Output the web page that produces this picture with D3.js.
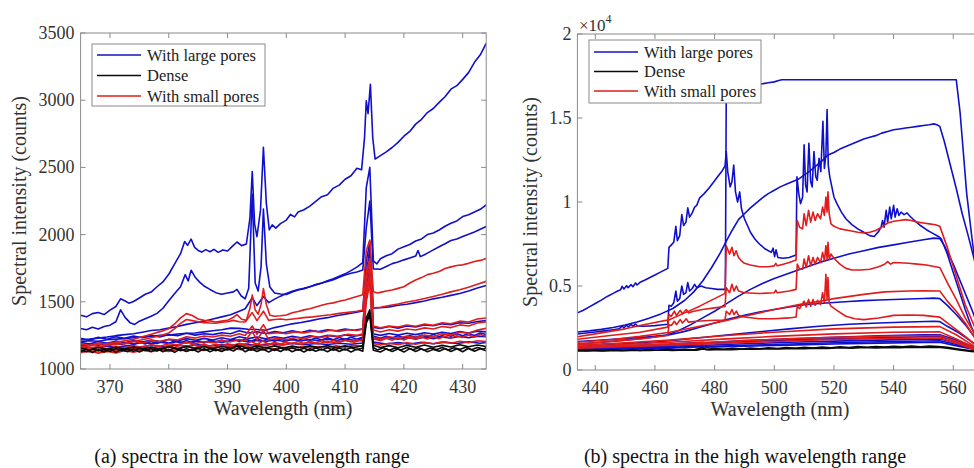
<!DOCTYPE html>
<html><head><meta charset="utf-8">
<script src="https://cdn.jsdelivr.net/npm/d3@7"></script>
<style>
body{margin:0;background:#fff}
text{font-family:"Liberation Serif","Times New Roman",serif}
</style></head>
<body><svg id="c" width="974" height="468"></svg>
<script>
// ---------------- tick labels ----------------
const leftXTicks=[370,380,390,400,410,420,430];
const leftYTicks=[1000,1500,2000,2500,3000,3500];
const rightXTicks=[440,460,480,500,520,540,560];
const rightYTicks=[0,5000,10000,15000,20000];
const rightYLabels=["0","0.5","1","1.5","2"];
const legendNames=["With large pores","Dense","With small pores"];
const captions=["(a) spectra in the low wavelength range","(b) spectra in the high wavelength range"];

// ---------------- left panel: with large pores ----------------
const largeL1=[[365,1400],[366,1388],[367,1412],[368,1420],[369,1405],[370,1438],[371,1465],[371.8,1522],[372.5,1508],[373.2,1490],[374,1502],[375,1528],[376,1556],[377,1572],[378,1612],[379,1648],[380,1705],[381,1782],[382,1858],[382.7,1948],[383.2,1920],[383.8,1966],[384.4,1905],[385,1882],[385.6,1870],[386.3,1888],[387,1872],[387.7,1890],[388.4,1868],[389.2,1886],[390,1878],[390.8,1912],[391.6,1945],[392.4,1918],[393.2,1930],[393.8,2120],[394.2,2470],[394.6,2080],[395,1985],[395.6,2180],[396.1,2650],[396.6,2230],[397.1,2035],[397.6,2072],[398.2,2048],[399,2082],[400,2108],[400.7,2150],[401.4,2132],[402,2168],[403,2185],[404,2212],[405,2248],[406,2282],[407,2296],[408,2346],[409,2368],[410,2412],[411,2438],[412,2494],[412.8,2482],[413.3,2720],[413.6,2995],[413.9,2900],[414.3,3118],[414.7,2720],[415.1,2562],[416,2588],[417,2616],[418,2648],[419,2686],[420,2732],[421,2768],[422,2822],[423,2858],[424,2908],[425,2938],[426,2984],[427,3026],[428,3082],[429,3108],[430,3155],[431,3205],[432,3282],[433,3338],[434,3422]];
const largeL2=[[365,1302],[366,1292],[367,1310],[368,1298],[369,1316],[370,1326],[371,1352],[371.8,1440],[372.6,1382],[373.4,1345],[374.2,1332],[375,1356],[376,1374],[377,1392],[378,1414],[379,1452],[380,1508],[381,1562],[382,1612],[382.8,1702],[383.3,1655],[383.8,1735],[384.5,1682],[385.2,1648],[386,1618],[387,1592],[388,1568],[389,1556],[390,1566],[391,1574],[391.6,1592],[392.3,1545],[393,1522],[393.6,1600],[394.2,2300],[394.7,1640],[395.2,1580],[395.7,1760],[396.1,2190],[396.6,1780],[397.2,1610],[398,1566],[399,1558],[400,1554],[401,1572],[402,1588],[403,1598],[404,1612],[405,1626],[406,1638],[407,1656],[408,1672],[409,1690],[410,1708],[411,1732],[412,1758],[413,1792],[413.6,2350],[414.2,2500],[414.8,1805],[415.4,1782],[416,1820],[417,1842],[418,1858],[419,1892],[420,1910],[421,1926],[422,1952],[423,1968],[424,2000],[425,2012],[426,2034],[427,2062],[428,2084],[429,2102],[430,2134],[431,2148],[432,2168],[433,2188],[434,2222]];
const largeL3=[[365,1216],[366.5,1222],[368,1230],[369.5,1238],[371,1248],[372.5,1256],[374,1262],[375.5,1274],[377,1286],[378.5,1292],[380,1304],[381.5,1316],[383,1332],[384.5,1344],[386,1356],[387.5,1372],[389,1388],[390.5,1404],[392,1430],[393,1448],[394.2,1530],[395,1472],[396.1,1540],[397,1494],[398,1520],[399,1542],[400,1562],[401,1578],[402,1592],[403,1600],[404,1612],[405,1628],[406,1640],[407,1652],[408,1664],[409,1682],[410,1700],[411,1712],[412,1722],[413,1736],[413.6,2050],[414.2,2250],[414.8,1745],[416,1742],[417,1762],[418,1784],[419,1796],[420,1812],[421,1826],[422,1840],[422.4,1882],[422.8,1836],[423.5,1850],[424,1862],[425,1886],[426,1910],[427,1932],[428,1956],[429,1968],[430,1986],[431,2002],[432,2020],[433,2040],[434,2060]];
const largeL4=[[365,1202],[366.5,1210],[368,1206],[369.5,1218],[371,1222],[372.5,1226],[374,1232],[375.5,1238],[377,1242],[378.5,1250],[380,1252],[381.5,1260],[383,1266],[384.5,1268],[386,1276],[387.5,1284],[389,1292],[390.5,1304],[392,1302],[393.5,1296],[395,1294],[396.5,1288],[398,1308],[399.5,1322],[401,1336],[402.5,1346],[404,1358],[405.5,1372],[407,1382],[408.5,1396],[410,1408],[411.5,1418],[413,1432],[413.6,1800],[414.2,1950],[414.8,1452],[416,1456],[417.5,1462],[419,1474],[420.5,1482],[422,1494],[423.5,1506],[425,1522],[426.5,1534],[428,1548],[429.5,1562],[431,1580],[432.5,1602],[434,1622]];
const largeL5=[[365,1228],[366.5,1214],[368,1236],[369.5,1222],[371,1240],[372.5,1228],[374,1246],[375.5,1232],[377,1250],[378.5,1238],[380,1256],[381.5,1248],[383,1266],[384.5,1252],[386,1262],[387.5,1256],[389,1270],[390.5,1262],[392,1284],[393.5,1268],[395,1276],[396.5,1264],[398,1278],[399.5,1270],[401,1284],[402.5,1272],[404,1288],[405.5,1278],[407,1292],[408.5,1284],[410,1298],[411.5,1288],[413,1300],[413.6,1700],[414.2,1900],[414.8,1310],[416,1302],[417.5,1316],[419,1304],[420.5,1320],[422,1312],[423.5,1328],[425,1322],[426.5,1336],[428,1330],[429.5,1344],[431,1340],[432.5,1354],[434,1360]];
const largeL6=[[365,1198],[366.5,1186],[368,1204],[369.5,1192],[371,1208],[372.5,1196],[374,1212],[375.5,1200],[377,1216],[378.5,1204],[380,1220],[381.5,1208],[383,1226],[384.5,1214],[386,1228],[387.5,1216],[389,1232],[390.5,1220],[392,1240],[393.5,1226],[395,1238],[396.5,1224],[398,1240],[399.5,1228],[401,1244],[402.5,1232],[404,1248],[405.5,1236],[407,1250],[408.5,1240],[410,1254],[411.5,1244],[413,1256],[413.6,1650],[414.2,1850],[414.8,1262],[416,1250],[417.5,1264],[419,1252],[420.5,1266],[422,1256],[423.5,1270],[425,1260],[426.5,1274],[428,1264],[429.5,1278],[431,1268],[432.5,1282],[434,1276]];
const largeL7=[[365,1176],[366.5,1190],[368,1178],[369.5,1192],[371,1182],[372.5,1196],[374,1184],[375.5,1198],[377,1188],[378.5,1200],[380,1190],[381.5,1204],[383,1194],[384.5,1206],[386,1196],[387.5,1208],[389,1198],[390.5,1210],[392,1214],[393.5,1202],[395,1212],[396.5,1204],[398,1216],[399.5,1206],[401,1218],[402.5,1208],[404,1220],[405.5,1210],[407,1222],[408.5,1212],[410,1224],[411.5,1214],[413,1226],[413.6,1600],[414.2,1780],[414.8,1230],[416,1220],[417.5,1232],[419,1222],[420.5,1234],[422,1224],[423.5,1236],[425,1226],[426.5,1238],[428,1230],[429.5,1242],[431,1232],[432.5,1244],[434,1240]];
const largeL8=[[365,1166],[367,1158],[369,1170],[371,1162],[373,1174],[375,1164],[377,1176],[379,1166],[381,1178],[383,1170],[385,1180],[387,1172],[389,1182],[391,1178],[393,1186],[395,1176],[397,1188],[399,1178],[401,1190],[403,1180],[405,1190],[407,1182],[409,1192],[411,1184],[413,1194],[413.6,1550],[414.2,1700],[414.8,1200],[417,1186],[419,1196],[421,1186],[423,1198],[425,1188],[427,1200],[429,1190],[431,1202],[433,1192],[434,1198]];
const largeL9=[[365,1186],[366,1172],[367,1190],[368,1176],[369,1194],[370,1178],[371,1196],[372,1182],[373,1198],[374,1184],[375,1200],[376,1186],[377,1204],[378,1190],[379,1206],[380,1192],[381,1208],[382,1194],[383,1212],[384,1196],[385,1210],[386,1198],[387,1214],[388,1200],[389,1216],[390,1202],[391,1220],[392,1206],[393,1222],[394,1208],[395,1224],[396,1210],[397,1222],[398,1206],[399,1224],[400,1210],[401,1226],[402,1212],[403,1228],[404,1214],[405,1230],[406,1216],[407,1232],[408,1218],[409,1234],[410,1220],[411,1236],[412,1222],[413,1238],[413.6,1620],[414.2,1820],[414.8,1246],[416,1228],[417,1244],[418,1230],[419,1248],[420,1232],[421,1250],[422,1236],[423,1252],[424,1238],[425,1256],[426,1240],[427,1258],[428,1244],[429,1262],[430,1248],[431,1264],[432,1250],[433,1268],[434,1256]];

// ---------------- left panel: with small pores ----------------
const smallL1=[[365,1165],[366.5,1172],[368,1185],[369.5,1190],[371,1198],[372.5,1210],[374,1222],[375.5,1240],[377,1258],[378.5,1278],[380,1300],[381,1335],[382,1380],[383,1412],[384,1398],[385,1372],[386,1362],[387,1358],[388,1350],[389,1356],[390,1362],[391,1385],[391.6,1405],[392.4,1370],[393.2,1362],[393.8,1450],[394.2,1550],[394.7,1440],[395.2,1408],[395.7,1480],[396.1,1598],[396.6,1480],[397.2,1400],[398,1392],[399,1396],[400,1402],[401,1418],[402,1428],[403,1440],[404,1448],[405,1462],[406,1474],[407,1486],[408,1492],[409,1504],[410,1514],[411,1526],[412,1540],[413,1552],[413.6,1880],[414.2,1960],[414.8,1575],[415.5,1565],[416,1570],[417,1580],[418,1588],[419,1600],[420,1612],[421,1640],[422,1662],[423,1680],[424,1702],[425,1712],[426,1726],[427,1748],[428,1760],[429,1770],[430,1775],[431,1786],[432,1800],[433,1808],[434,1822]];
const smallL2=[[365,1150],[366.5,1158],[368,1165],[369.5,1175],[371,1182],[372.5,1192],[374,1205],[375.5,1218],[377,1232],[378.5,1248],[380,1268],[381,1300],[382,1340],[383,1368],[384,1360],[385,1352],[386,1345],[387,1342],[388,1340],[389,1348],[390,1352],[391,1362],[392,1352],[393,1350],[394.2,1420],[395,1360],[396.1,1430],[397,1362],[398,1368],[399,1372],[400,1366],[401.5,1374],[403,1382],[404.5,1388],[406,1396],[407.5,1404],[409,1414],[410.5,1422],[412,1430],[413,1438],[413.6,1720],[414.2,1820],[414.8,1455],[416,1460],[417.5,1472],[419,1484],[420.5,1498],[422,1510],[423.5,1524],[425,1540],[426.5,1556],[428,1574],[429.5,1590],[431,1608],[432.5,1630],[434,1652]];
const smallL3=[[365,1188],[366.5,1176],[368,1194],[369.5,1182],[371,1198],[372.5,1186],[374,1204],[375.5,1194],[377,1212],[378.5,1204],[380,1222],[381.5,1216],[383,1240],[384.5,1230],[386,1246],[387.5,1238],[389,1252],[390.5,1244],[392,1262],[393,1250],[394.2,1320],[395,1258],[396.1,1330],[397,1262],[398.5,1270],[400,1262],[401.5,1276],[403,1268],[404.5,1282],[406,1274],[407.5,1288],[409,1280],[410.5,1292],[412,1286],[413,1296],[413.6,1700],[414.2,1800],[414.8,1320],[416,1306],[417.5,1320],[419,1312],[420.5,1328],[422,1318],[423.5,1334],[425,1326],[426.5,1344],[428,1336],[429.5,1356],[431,1350],[432.5,1372],[434,1380]];
const smallL4=[[365,1158],[366.5,1146],[368,1164],[369.5,1150],[371,1168],[372.5,1156],[374,1172],[375.5,1162],[377,1180],[378.5,1170],[380,1188],[381.5,1180],[383,1198],[384.5,1188],[386,1204],[387.5,1196],[389,1212],[390.5,1202],[392,1220],[393,1210],[394.2,1280],[395,1214],[396.1,1290],[397,1218],[398.5,1228],[400,1218],[401.5,1234],[403,1226],[404.5,1242],[406,1234],[407.5,1250],[409,1242],[410.5,1258],[412,1250],[413,1262],[413.6,1650],[414.2,1760],[414.8,1290],[416,1276],[417.5,1292],[419,1282],[420.5,1298],[422,1290],[423.5,1306],[425,1298],[426.5,1316],[428,1308],[429.5,1328],[431,1320],[432.5,1342],[434,1350]];
const smallL5=[[365,1138],[366.5,1126],[368,1142],[369.5,1128],[371,1146],[372.5,1132],[374,1150],[375.5,1138],[377,1156],[378.5,1144],[380,1162],[381.5,1150],[383,1168],[384.5,1156],[386,1172],[387.5,1160],[389,1176],[390.5,1166],[392,1182],[393.5,1170],[395,1186],[396.5,1174],[398,1190],[399.5,1178],[401,1194],[402.5,1184],[404,1200],[405.5,1188],[407,1206],[408.5,1194],[410,1212],[411.5,1200],[413,1218],[413.6,1600],[414.2,1700],[414.8,1236],[416,1222],[417.5,1240],[419,1228],[420.5,1246],[422,1234],[423.5,1252],[425,1242],[426.5,1262],[428,1252],[429.5,1274],[431,1266],[432.5,1290],[434,1302]];
const smallL6=[[365,1122],[366.5,1136],[368,1118],[369.5,1132],[371,1120],[372.5,1138],[374,1124],[375.5,1140],[377,1128],[378.5,1142],[380,1130],[381.5,1146],[383,1134],[384.5,1148],[386,1138],[387.5,1152],[389,1140],[390.5,1154],[392,1146],[393.5,1158],[395,1146],[396.5,1160],[398,1150],[399.5,1162],[401,1152],[402.5,1166],[404,1156],[405.5,1168],[407,1160],[408.5,1172],[410,1162],[411.5,1176],[413,1168],[413.6,1500],[414.2,1640],[414.8,1190],[416,1178],[417.5,1192],[419,1180],[420.5,1196],[422,1184],[423.5,1198],[425,1188],[426.5,1202],[428,1192],[429.5,1206],[431,1196],[432.5,1210],[434,1204]];
const smallL7=[[365,1132],[366,1150],[367,1128],[368,1146],[369,1134],[370,1152],[371,1138],[372,1156],[373,1140],[374,1160],[375,1146],[376,1164],[377,1150],[378,1168],[379,1156],[380,1174],[381,1160],[382,1178],[383,1166],[384,1182],[385,1168],[386,1184],[387,1170],[388,1186],[389,1172],[390,1188],[391,1176],[392,1192],[393,1178],[394,1206],[395,1182],[396,1210],[397,1184],[398,1198],[399,1186],[400,1200],[401,1188],[402,1204],[403,1190],[404,1206],[405,1194],[406,1210],[407,1196],[408,1212],[409,1200],[410,1216],[411,1202],[412,1218],[413,1206],[413.6,1560],[414.2,1680],[414.8,1226],[416,1210],[417,1228],[418,1214],[419,1232],[420,1216],[421,1234],[422,1220],[423,1238],[424,1224],[425,1240],[426,1226],[427,1244],[428,1230],[429,1248],[430,1234],[431,1252],[432,1238],[433,1256],[434,1244]];

// ---------------- left panel: dense ----------------
const denseL1=[[365,1142],[366,1128],[367,1150],[368,1134],[369,1146],[370,1130],[371,1152],[372,1136],[373,1148],[374,1132],[375,1154],[376,1138],[377,1150],[378,1134],[379,1152],[380,1140],[381,1154],[382,1136],[383,1150],[384,1138],[385,1156],[386,1140],[387,1152],[388,1136],[389,1154],[390,1142],[391,1158],[391.6,1180],[392.3,1144],[393,1156],[394,1140],[395,1158],[396,1142],[397,1154],[398,1138],[399,1156],[400,1142],[401,1158],[402,1140],[403,1154],[404,1138],[405,1156],[406,1142],[407,1158],[408,1140],[409,1154],[410,1142],[411,1158],[412,1144],[413,1156],[413.6,1380],[414.2,1440],[414.8,1160],[415.5,1142],[416.5,1158],[417.5,1140],[418.5,1156],[419.5,1142],[420.5,1160],[421.5,1144],[422.5,1158],[423.5,1140],[424.5,1156],[425.5,1144],[426.5,1160],[427.5,1142],[428.5,1158],[429.5,1146],[430.5,1162],[431.5,1144],[432.5,1160],[433.5,1148],[434,1158]];
const denseL2=[[365,1156],[366.5,1140],[368,1160],[369.5,1146],[371,1162],[372.5,1148],[374,1164],[375.5,1150],[377,1162],[378.5,1148],[380,1166],[381.5,1152],[383,1168],[384.5,1154],[386,1166],[387.5,1152],[389,1168],[390.5,1156],[392,1172],[393.5,1156],[395,1170],[396.5,1158],[398,1172],[399.5,1156],[401,1170],[402.5,1158],[404,1172],[405.5,1160],[407,1174],[408.5,1158],[410,1172],[411.5,1160],[413,1174],[413.6,1360],[414.2,1420],[414.8,1176],[416,1160],[417.5,1174],[419,1158],[420.5,1176],[422,1162],[423.5,1178],[425,1162],[426.5,1176],[428,1164],[429.5,1180],[431,1166],[432.5,1178],[434,1168]];
const denseL3=[[365,1128],[366,1148],[367,1122],[368,1144],[369,1126],[370,1150],[371,1124],[372,1146],[373,1128],[374,1150],[375,1126],[376,1148],[377,1130],[378,1152],[379,1128],[380,1146],[381,1124],[382,1150],[383,1130],[384,1148],[385,1126],[386,1152],[387,1128],[388,1146],[389,1130],[390,1150],[391,1134],[392,1162],[393,1128],[394,1150],[395,1130],[396,1148],[397,1126],[398,1150],[399,1130],[400,1152],[401,1128],[402,1148],[403,1126],[404,1150],[405,1132],[406,1148],[407,1128],[408,1152],[409,1130],[410,1150],[411,1126],[412,1148],[413,1132],[413.6,1340],[414.2,1400],[414.8,1140],[416,1126],[417,1150],[418,1130],[419,1148],[420,1126],[421,1152],[422,1130],[423,1150],[424,1128],[425,1146],[426,1132],[427,1152],[428,1130],[429,1150],[430,1128],[431,1154],[432,1132],[433,1150],[434,1136]];

// ---------------- right panel: with large pores ----------------
const largeR1=[[434,3400],[436,3560],[438,3760],[440,3960],[442,4160],[444,4380],[446,4560],[447.5,4700],[448.5,4780],[449,4980],[449.6,4820],[450.5,5020],[451,4900],[452,5080],[452.6,4960],[453.5,5180],[454,5060],[455,5220],[456.5,5340],[458,5480],[460,5660],[462,5840],[464.3,6050],[464.7,7300],[465.5,7450],[466.3,7600],[467,8550],[467.5,7700],[468.3,8000],[469,9250],[469.6,8600],[470.4,8800],[471,9650],[471.6,9100],[472.5,9350],[473.3,9700],[474,9800],[475,10250],[476.5,10500],[478,10800],[479.5,11150],[481,11500],[482.5,11850],[483.5,12150],[483.9,13000],[484.4,11800],[485.2,10900],[485.8,11200],[486.4,12200],[487,10600],[487.7,10000],[488.4,10600],[489,9600],[490,9000],[491,8600],[492,8200],[493.5,7800],[495,7500],[497,7200],[499,7000],[499.6,7250],[500.1,6750],[500.6,7150],[501.2,6700],[503,6650],[505,6700],[507.3,6850],[507.6,11500],[508.2,10500],[508.8,9900],[509.5,10300],[510,13400],[510.5,11000],[511,10600],[511.6,13500],[512.2,11200],[512.7,10900],[513.3,13000],[513.9,11500],[514.4,11300],[515,12600],[515.6,11800],[516.3,14800],[516.8,12000],[517.3,12800],[517.7,15500],[518.1,12200],[518.6,11500],[519.3,10900],[520,10300],[521,9900],[522.5,9400],[524,9000],[526,8650],[528,8400],[530,8200],[532,8000],[533.5,7950],[535,8250],[535.8,8500],[536.3,8900],[536.8,8500],[537.5,9500],[538,8800],[538.7,9700],[539.2,9000],[540,9800],[540.5,9100],[541.2,9600],[541.8,9200],[542.5,9400],[543.5,9250],[544.5,9350],[545.5,9150],[547,8900],[549,8600],[551,8350],[553,8150],[555,7950],[556,7800],[558,6900],[560,5800],[562,4700],[564,3600],[566,2600],[568,1800]];
const largeR2=[[434,2140],[437,2200],[440,2260],[443,2330],[446,2400],[448,2450],[449,2620],[449.6,2500],[450.5,2680],[451.1,2560],[452,2720],[452.6,2600],[453.5,2740],[454.2,2620],[456,2600],[458,2620],[460,2640],[462,2680],[464.3,2720],[464.7,3850],[465.5,3800],[466.3,4000],[467,4700],[467.5,4100],[468.3,4250],[469,5000],[469.6,4500],[470.4,4600],[471,5200],[471.6,4700],[472.5,4850],[473.3,5100],[474,4900],[475.5,5000],[477,4900],[479,4850],[481,4800],[483.6,4800],[483.9,16500],[486,16750],[489,16850],[492,16950],[495,17000],[498,17100],[500,17150],[501.5,17230],[502.5,17280],[561,17280],[562.3,15300],[564.5,10500],[566.5,7500],[568,5600],[570,3600]];
const largeR3=[[434,2260],[438,2330],[442,2420],[446,2530],[450,2680],[454,2860],[458,3080],[462,3340],[466,3660],[470,4150],[473,4650],[476,5300],[479,6100],[482,7000],[484,7700],[486,8350],[488,8950],[490,9300],[492,9650],[494,9950],[496,10250],[498,10500],[500,10700],[502,10900],[504,11050],[506,11200],[508,11350],[510,11600],[512,11850],[514,12150],[516,12450],[518,12800],[520,12950],[522,13150],[524,13300],[526,13450],[528,13600],[530,13750],[532,13850],[534,13950],[536,14100],[538,14200],[540,14300],[542,14350],[544,14400],[546,14450],[548,14500],[550,14550],[552,14600],[553.5,14650],[554.5,14600],[555.5,14500],[557,13600],[559,12200],[561,10800],[563,9300],[565,8000],[567,6600],[570,4600]];
const largeR4=[[434,1700],[440,1760],[446,1830],[452,1900],[458,1980],[464,2080],[468,2350],[472,2700],[476,3100],[480,3500],[484,3950],[488,4400],[492,4800],[496,5150],[500,5450],[504,5700],[508,5950],[512,6200],[516,6450],[520,6650],[525,6900],[530,7100],[535,7300],[540,7450],[545,7600],[550,7750],[553.5,7850],[555.5,7820],[557,7400],[560,6300],[563,5000],[566,3700],[569,2300]];
const largeR5=[[434,1550],[442,1650],[450,1780],[458,1920],[465,2100],[470,2300],[475,2550],[480,2800],[484,3000],[490,3250],[495,3450],[500,3600],[505,3750],[510,3880],[515,3960],[520,4020],[525,4080],[530,4130],[535,4170],[540,4200],[545,4230],[550,4260],[553.5,4280],[555.5,4250],[558,3850],[561,3300],[564,2700],[567,2000],[570,1400]];
const largeR6=[[434,1400],[445,1500],[455,1620],[465,1750],[475,1920],[484,2080],[495,2280],[505,2450],[515,2600],[525,2720],[535,2800],[545,2860],[553.5,2900],[555.5,2880],[558,2600],[562,2200],[566,1700],[570,1250]];
const largeR7=[[434,1320],[450,1400],[465,1480],[475,1560],[476,1640],[477,1580],[490,1680],[505,1780],[520,1860],[535,1920],[550,1980],[555.5,1990],[560,1750],[565,1450],[570,1200]];
const largeR8=[[434,1260],[450,1330],[465,1400],[476,1500],[477,1470],[490,1560],[505,1650],[520,1720],[535,1780],[550,1840],[555.5,1850],[560,1650],[565,1380],[570,1170]];
const largeR9=[[434,1220],[450,1280],[465,1340],[476,1420],[477,1400],[490,1470],[505,1550],[520,1620],[535,1680],[550,1730],[555.5,1740],[560,1560],[565,1330],[570,1150]];
const largeR10=[[434,1360],[450,1450],[465,1540],[476,1650],[477,1620],[490,1750],[505,1850],[520,1950],[535,2030],[550,2090],[555.5,2100],[560,1850],[565,1500],[570,1220]];
const largeR11=[[434,1200],[450,1250],[465,1300],[476,1380],[477,1350],[490,1420],[505,1480],[520,1550],[535,1600],[550,1640],[555.5,1650],[560,1480],[565,1300],[570,1130]];

// ---------------- right panel: with small pores ----------------
const smallR1=[[434,1980],[440,2150],[445,2300],[450,2450],[455,2650],[460,2830],[465,3000],[470,3400],[475,3800],[480,4250],[483.5,4560],[483.9,7400],[485,6900],[485.8,7300],[486.5,6800],[487.2,7100],[488,6700],[489,6500],[490,6350],[492,6250],[495,6150],[498,6150],[500,6200],[500.5,6350],[501,6200],[503,6300],[505,6400],[507.3,6550],[507.7,8900],[508.5,8500],[509.5,8400],[510,9300],[510.7,8600],[511.5,9500],[512.2,8800],[513,9400],[513.7,8900],[514.5,9300],[515.5,9000],[516.2,9700],[516.8,9200],[517.3,10300],[517.7,9400],[518,10600],[518.4,9300],[519,8700],[520,8550],[522,8400],[525,8300],[528,8200],[530,8150],[532,8200],[534,8300],[536,8500],[538,8750],[540,8850],[542,8900],[544,8950],[546,8900],[548,8800],[550,8750],[552,8700],[554,8650],[555.5,8550],[558,7300],[561,5600],[564,3900],[568,2200]];
const smallR2=[[434,1830],[445,2050],[455,2250],[464.3,2550],[464.7,3300],[465.5,3200],[466.5,3500],[467.2,3250],[468.5,3550],[469.2,3350],[470.5,3600],[471.2,3400],[473,3500],[476,3600],[480,3700],[483.5,3780],[483.9,4900],[485,4600],[485.8,5100],[486.5,4700],[487.3,5000],[488,4700],[490,4600],[495,4550],[500,4600],[500.5,4750],[501,4600],[505,4700],[507.3,4800],[507.7,6300],[508.5,6000],[509.5,6000],[510,6600],[510.7,6100],[511.5,6800],[512.2,6200],[513,6700],[513.7,6300],[514.5,6700],[515.5,6400],[516.2,7000],[516.8,6500],[517.3,7400],[517.7,6600],[518,7600],[518.4,6600],[519,6900],[520,6650],[522,6300],[524,6050],[526,5950],[529,5950],[532,6000],[535,6150],[537,6300],[538,6450],[539,6300],[540,6400],[542,6380],[545,6350],[548,6300],[551,6250],[554,6150],[555.5,6100],[558,5200],[561,4200],[564,3100],[568,1900]];
const smallR3=[[434,1650],[445,1800],[455,2000],[465,2250],[475,2600],[484,2950],[490,3200],[500,3600],[510,3950],[515,4080],[520,4250],[530,4500],[537,4650],[545,4700],[550,4720],[555.5,4700],[558,4100],[561,3500],[564,2800],[568,1700]];
const smallR4=[[434,1550],[445,1700],[455,1850],[464.3,2050],[464.7,2700],[465.5,2650],[466.5,2900],[467.2,2700],[468.5,3000],[469.2,2800],[470.5,3050],[471.2,2850],[474,2900],[478,2950],[483.5,2980],[483.9,3500],[485,3300],[485.8,3600],[486.5,3300],[487.3,3500],[488,3250],[490,3150],[495,3050],[500,3050],[505,3100],[507.3,3150],[507.7,3800],[508.5,3650],[510,4100],[510.7,3750],[511.5,4200],[512.2,3800],[513,4200],[513.7,3850],[514.5,4150],[515.5,3900],[516.2,4600],[516.8,4000],[517.3,5700],[517.7,4200],[518,5500],[518.4,4000],[519,3800],[521,3550],[524,3200],[527,3050],[530,3000],[535,3100],[540,3250],[545,3270],[550,3250],[555.5,3150],[558,2800],[561,2400],[564,2000],[568,1400]];
const smallR5=[[434,1480],[450,1620],[465,1780],[484,2050],[500,2250],[520,2450],[540,2550],[555.5,2580],[561,2100],[568,1300]];
const smallR6=[[434,1400],[465,1650],[484,1850],[500,2000],[520,2150],[540,2250],[555.5,2270],[561,1850],[568,1250]];
const smallR7=[[434,1350],[465,1550],[484,1700],[500,1820],[520,1950],[540,2020],[555.5,2050],[561,1700],[568,1200]];
const smallR8=[[434,1300],[465,1480],[484,1600],[500,1700],[520,1820],[540,1880],[555.5,1900],[561,1600],[568,1150]];

// ---------------- right panel: dense ----------------
const denseR1=[[434,1170],[437,1140],[440,1185],[443,1150],[446,1195],[449,1160],[452,1205],[455,1170],[458,1215],[461,1180],[464,1225],[467,1190],[470,1235],[473,1205],[476,1320],[477,1230],[480,1270],[483,1235],[486,1285],[489,1250],[492,1300],[495,1265],[498,1315],[501,1280],[504,1330],[507,1295],[510,1345],[513,1310],[516,1360],[519,1325],[522,1375],[525,1340],[528,1390],[531,1355],[534,1400],[537,1365],[540,1410],[543,1375],[546,1420],[549,1385],[552,1430],[555,1400],[558,1350],[561,1260],[564,1190],[567,1120],[570,1080]];
const denseR2=[[434,1130],[438,1160],[442,1140],[446,1170],[450,1150],[454,1180],[458,1160],[462,1190],[466,1170],[470,1200],[474,1185],[476,1250],[478,1200],[482,1230],[486,1215],[490,1250],[494,1235],[498,1270],[502,1255],[506,1290],[510,1270],[514,1305],[518,1285],[522,1320],[526,1300],[530,1335],[534,1315],[538,1345],[542,1325],[546,1355],[550,1335],[555,1360],[558,1300],[562,1200],[566,1110],[570,1050]];

// ---------------- drawing ----------------
const BLUE="#1010cc", RED="#e01c1c", BLACK="#0a0a0a";
const svg=d3.select("#c");

function drawPanel(o){
  const x=d3.scaleLinear().domain(o.xd).range(o.xr);
  const y=d3.scaleLinear().domain(o.yd).range(o.yr);
  const [x0,x1]=o.xr, [y0,y1]=[o.yr[1],o.yr[0]];
  const g=svg.append("g");
  const cid="clip"+o.id;
  svg.append("clipPath").attr("id",cid).append("rect")
     .attr("x",x0).attr("y",y0).attr("width",x1-x0).attr("height",y1-y0);
  const line=d3.line().x(d=>x(d[0])).y(d=>y(d[1]));
  const lg=g.append("g").attr("clip-path",`url(#${cid})`);
  const draw=(arr,c)=>arr.forEach(s=>lg.append("path").attr("d",line(s))
      .attr("fill","none").attr("stroke",c).attr("stroke-width",1.6).attr("stroke-linejoin","round"));
  draw(o.blue,BLUE); draw(o.red,RED); draw(o.black,BLACK);

  g.append("rect").attr("x",x0).attr("y",y0).attr("width",x1-x0).attr("height",y1-y0)
   .attr("fill","none").attr("stroke","#8a8a8a").attr("stroke-width",1);
  o.xt.forEach(t=>{
    const px=x(t);
    g.append("line").attr("x1",px).attr("x2",px).attr("y1",y1).attr("y2",y1-5).attr("stroke","#8a8a8a");
    g.append("line").attr("x1",px).attr("x2",px).attr("y1",y0).attr("y2",y0+5).attr("stroke","#8a8a8a");
    g.append("text").attr("x",px).attr("y",y1+24).attr("text-anchor","middle")
     .attr("font-size",18).attr("fill","#333").text(t);
  });
  o.yt.forEach((t,i)=>{
    const py=y(t);
    g.append("line").attr("x1",x0).attr("x2",x0+5).attr("y1",py).attr("y2",py).attr("stroke","#8a8a8a");
    g.append("line").attr("x1",x1).attr("x2",x1-5).attr("y1",py).attr("y2",py).attr("stroke","#8a8a8a");
    g.append("text").attr("x",x0-6).attr("y",py+6).attr("text-anchor","end")
     .attr("font-size",18).attr("fill","#333").text(o.yl?o.yl[i]:t);
  });
  g.append("text").attr("x",o.xtitleX).attr("y",y1+46).attr("text-anchor","middle")
   .attr("font-size",20).attr("fill","#333").text("Wavelength (nm)");
  g.append("text").attr("transform",`translate(${o.ytitleX},${(y0+y1)/2}) rotate(-90)`)
   .attr("text-anchor","middle").attr("font-size",20).attr("fill","#333")
   .text("Spectral intensity (counts)");
  const L=o.leg;
  g.append("rect").attr("x",L.x).attr("y",L.y).attr("width",L.w).attr("height",L.h)
   .attr("fill","#fff").attr("stroke","#8a8a8a");
  [BLUE,BLACK,RED].forEach((c,i)=>{
    const ly=L.y+L.r0+i*L.dr;
    g.append("line").attr("x1",L.x+5).attr("x2",L.x+49).attr("y1",ly).attr("y2",ly)
     .attr("stroke",c).attr("stroke-width",1.5);
    g.append("text").attr("x",L.x+55).attr("y",ly+5.5).attr("font-size",16.5).attr("fill","#222")
     .text(legendNames[i]);
  });
  g.append("text").attr("x",o.capX).attr("y",463).attr("text-anchor","middle")
   .attr("font-size",20).attr("fill","#111").text(o.cap);
  return {x,y,g};
}

drawPanel({id:"L",xd:[365,434],xr:[80.6,486.2],yd:[1000,3500],yr:[369,33],
  xt:leftXTicks,yt:leftYTicks,xtitleX:283,ytitleX:26,
  blue:[largeL8,largeL9,largeL7,largeL6,largeL5,largeL4,largeL3,largeL2,largeL1],
  red:[smallL7,smallL6,smallL5,smallL4,smallL3,smallL2,smallL1],
  black:[denseL3,denseL2,denseL1],
  leg:{x:92,y:44,w:173,h:62,r0:11,dr:20.5},cap:captions[0],capX:252});

const R=drawPanel({id:"R",xd:[434,570],xr:[577.4,983.1],yd:[0,20000],yr:[370,34],
  xt:rightXTicks,yt:rightYTicks,yl:rightYLabels,xtitleX:780,ytitleX:537,
  blue:[largeR11,largeR9,largeR8,largeR7,largeR10,largeR6,largeR5,largeR4,largeR3,largeR2,largeR1],
  red:[smallR8,smallR7,smallR6,smallR5,smallR4,smallR3,smallR2,smallR1],
  black:[denseR2,denseR1],
  leg:{x:589,y:40,w:172,h:63,r0:12,dr:19.5},cap:captions[1],capX:745});

const mult=R.g.append("text").attr("x",579).attr("y",31).attr("font-size",17).attr("fill","#333");
mult.append("tspan").text("×10");
mult.append("tspan").attr("font-size",12).attr("dy",-8).text("4");
</script>
</body></html>
